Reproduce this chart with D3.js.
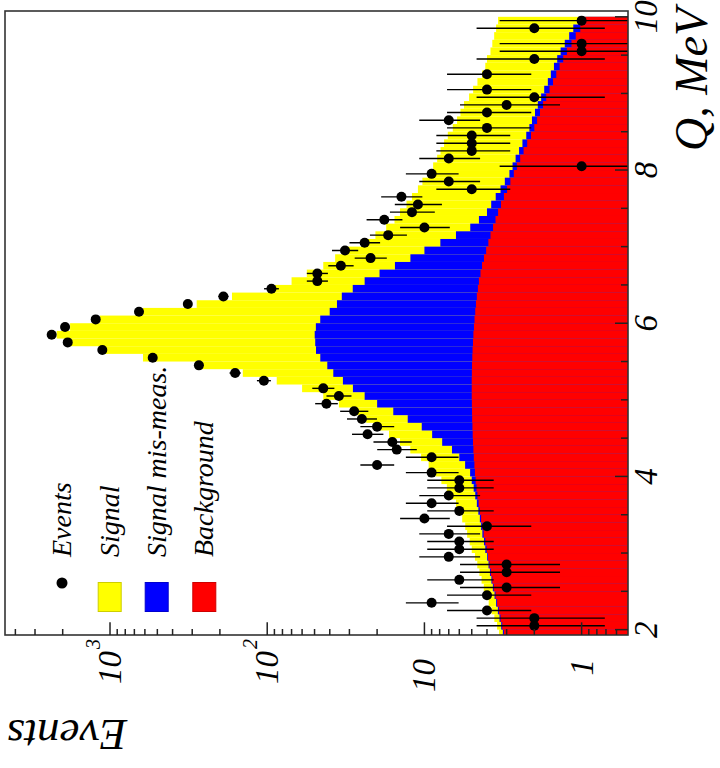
<!DOCTYPE html>
<html>
<head>
<meta charset="utf-8">
<script src="https://cdn.jsdelivr.net/npm/d3@7"></script>
<style>
  body { margin: 0; background: #fff; }
  svg { display: block; }
  text { font-family: "Liberation Serif", "Times New Roman", serif; font-style: italic; fill: #000; }
</style>
</head>
<body>
<svg id="chart" width="720" height="768"></svg>
<script>
// Q bin centres, MeV (bin width 0.1)
const binCenters = [
  1.95, 2.05, 2.15, 2.25, 2.35, 2.45, 2.55, 2.65, 2.75, 2.85, 2.95,
  3.05, 3.15, 3.25, 3.35, 3.45, 3.55, 3.65, 3.75, 3.85, 3.95,
  4.05, 4.15, 4.25, 4.35, 4.45, 4.55, 4.65, 4.75, 4.85, 4.95,
  5.05, 5.15, 5.25, 5.35, 5.45, 5.55, 5.65, 5.75, 5.85, 5.95,
  6.05, 6.15, 6.25, 6.35, 6.45, 6.55, 6.65, 6.75, 6.85, 6.95,
  7.05, 7.15, 7.25, 7.35, 7.45, 7.55, 7.65, 7.75, 7.85, 7.95,
  8.05, 8.15, 8.25, 8.35, 8.45, 8.55, 8.65, 8.75, 8.85, 8.95,
  9.05, 9.15, 9.25, 9.35, 9.45, 9.55, 9.65, 9.75, 9.85, 9.95
];

const events = [
  0, 2, 2, 4, 9, 4, 3, 6, 3, 3, 7,
  6, 6, 7, 4, 10, 6, 9, 7, 6, 6,
  9, 20, 9, 15, 16, 23, 20, 25, 28, 42,
  35, 44, 105, 160, 272, 535, 1119, 1858, 2350, 1932,
  1233, 654, 320, 190, 94, 48, 48, 34, 22, 32,
  24, 17, 10, 18, 12, 11, 14, 5, 7, 9,
  1, 7, 5, 5, 5, 4, 7, 4, 3, 2,
  4, 0, 4, 0, 2, 1, 1, 0, 2, 1
];

const background = [
  3.12, 3.2, 3.28, 3.36, 3.45, 3.53, 3.62, 3.7, 3.78, 3.86, 3.94,
  4.02, 4.1, 4.2, 4.28, 4.36, 4.44, 4.52, 4.6, 4.66, 4.72,
  4.77, 4.81, 4.85, 4.88, 4.91, 4.93, 4.95, 4.97, 4.98, 4.99,
  5.0, 5.0, 5.0, 4.99, 4.98, 4.96, 4.94, 4.91, 4.88, 4.84,
  4.8, 4.75, 4.7, 4.64, 4.57, 4.5, 4.4, 4.3, 4.18, 4.05,
  3.92, 3.8, 3.66, 3.53, 3.4, 3.26, 3.12, 2.98, 2.84, 2.7,
  2.58, 2.46, 2.34, 2.22, 2.1, 2.0, 1.92, 1.84, 1.76, 1.68,
  1.6, 1.52, 1.45, 1.38, 1.31, 1.24, 1.16, 1.09, 1.02, 0.95
];

const misMeas = [
  0.05, 0.05, 0.05, 0.05, 0.05, 0.05, 0.05, 0.05, 0.05, 0.05, 0.05,
  0.08, 0.08, 0.08, 0.08, 0.08, 0.1, 0.12, 0.15, 0.2, 0.28,
  0.35, 0.7, 1.15, 1.8, 2.8, 4.0, 5.45, 7.8, 10.8, 15,
  19, 23.5, 28, 33, 36.5, 41, 44, 44.6, 45, 44.2,
  41.2, 35.3, 31.3, 28.9, 24, 19.5, 14.9, 11.1, 8.1, 5.95,
  4.0, 2.5, 1.45, 0.97, 0.6, 0.5, 0.4, 0.3, 0.24, 0.18,
  0.17, 0.17, 0.16, 0.16, 0.15, 0.15, 0.15, 0.14, 0.14, 0.13,
  0.13, 0.12, 0.12, 0.12, 0.12, 0.12, 0.12, 0.11, 0.11, 0.1
];

const signal = [
  0.18, 0.2, 0.26, 0.33, 0.4, 0.46, 0.52, 0.58, 0.64, 0.7, 0.78,
  0.9, 0.97, 1.07, 1.14, 1.31, 1.46, 1.66, 1.95, 2.34, 2.8,
  3.38, 3.89, 4.5, 5.62, 6.59, 7.87, 9.4, 10.7, 12.7, 15.0,
  20, 31.5, 54, 105, 240, 571, 1059, 1745, 2133, 1746,
  1112, 577, 245, 134, 63.4, 46, 36.7, 28.6, 24.7, 21,
  17.1, 14.2, 12.4, 11, 10.3, 9.24, 8.48, 7.72, 7.22, 6.62,
  6.05, 5.67, 5.4, 5.12, 4.85, 4.45, 4.13, 3.92, 3.7, 3.39,
  3.17, 2.96, 2.73, 2.6, 2.57, 2.44, 2.42, 2.4, 2.37, 2.35
];

const qTicks = [2, 4, 6, 8, 10];
const eventTicks = [1, 10, 100, 1000];
const eventTickLabels = [["1", ""], ["10", ""], ["10", "2"], ["10", "3"]];
const legendLabels = ["Events", "Signal", "Signal mis-meas.", "Background"];
const colors = { sig: "#ffff00", mis: "#0000ff", bkg: "#ff0000" };

// the chart is drawn upright and the whole group turned 90 degrees
const W = 768, H = 720;
const pLeft = 133, pRight = 757, pTop = 5, pBottom = 628;

const svg = d3.select("#chart");
const g = svg.append("g").attr("transform", `translate(0,${W}) rotate(-90)`);

const x = d3.scaleLinear().domain([1.93, 10.076]).range([pLeft, pRight]);
const y = d3.scaleLog().domain([0.507, 4656]).range([pBottom, pTop]);

g.append("clipPath").attr("id", "plot-clip")
  .append("rect")
  .attr("x", pLeft).attr("y", pTop)
  .attr("width", pRight - pLeft).attr("height", pBottom - pTop);

const plot = g.append("g").attr("clip-path", "url(#plot-clip)");

const bins = binCenters.map((c, i) => ({
  c,
  bkg: background[i],
  blue: background[i] + misMeas[i],
  total: background[i] + misMeas[i] + signal[i],
  n: events[i]
}));

const layers = [
  { key: "total", color: colors.sig },
  { key: "blue", color: colors.mis },
  { key: "bkg", color: colors.bkg }
];

layers.forEach((layer) => {
  plot.append("g")
    .selectAll("rect")
    .data(bins)
    .join("rect")
    .attr("x", (d) => x(d.c - 0.05))
    .attr("width", (d) => x(d.c + 0.05) - x(d.c - 0.05))
    .attr("y", (d) => y(d[layer.key]))
    .attr("height", (d) => pBottom - y(d[layer.key]))
    .attr("fill", layer.color);
});

// poisson error bars (Gehrels approximation)
const pts = bins.filter((d) => d.n > 0).map((d) => {
  const n = d.n;
  const lo = n * Math.pow(1 - 1 / (9 * n) - 1 / (3 * Math.sqrt(n)), 3);
  const hi = n + Math.sqrt(n + 0.75) + 1;
  return { c: d.c, n, lo: Math.max(lo, 0.3), hi };
});

plot.append("g")
  .selectAll("line")
  .data(pts)
  .join("line")
  .attr("x1", (d) => x(d.c))
  .attr("x2", (d) => x(d.c))
  .attr("y1", (d) => y(d.lo))
  .attr("y2", (d) => y(d.hi))
  .attr("stroke", "#000")
  .attr("stroke-width", 1.4);

plot.append("g")
  .selectAll("circle")
  .data(pts)
  .join("circle")
  .attr("cx", (d) => x(d.c))
  .attr("cy", (d) => y(d.n))
  .attr("r", 5)
  .attr("fill", "#000");

// frame
g.append("rect")
  .attr("x", pLeft).attr("y", pTop)
  .attr("width", pRight - pLeft).attr("height", pBottom - pTop)
  .attr("fill", "none")
  .attr("stroke", "#333")
  .attr("stroke-width", 1.6);

// Q axis ticks (inside, from the bottom edge)
const qMinor = d3.range(2, 10.01, 0.5);
g.append("g")
  .selectAll("line")
  .data(qMinor)
  .join("line")
  .attr("x1", (d) => x(d)).attr("x2", (d) => x(d))
  .attr("y1", pBottom)
  .attr("y2", (d) => pBottom - (qTicks.includes(d) ? 13 : 7))
  .attr("stroke", "#222")
  .attr("stroke-width", 1.5);

g.append("g")
  .selectAll("text")
  .data(qTicks)
  .join("text")
  .attr("x", (d) => x(d))
  .attr("y", pBottom + 29)
  .attr("text-anchor", "middle")
  .attr("font-size", 33)
  .text((d) => d);

g.append("text")
  .attr("x", W - 8)
  .attr("y", 707)
  .attr("text-anchor", "end")
  .attr("font-size", 46)
  .text("Q, MeV");

// Events axis ticks (log, inside from the left edge)
const yMinor = [];
[0.1, 1, 10, 100, 1000].forEach((dec) => {
  for (let m = 1; m <= 9; m++) {
    const v = m * dec;
    if (v >= 0.507 && v <= 4656) yMinor.push(v);
  }
});
g.append("g")
  .selectAll("line")
  .data(yMinor)
  .join("line")
  .attr("x1", pLeft)
  .attr("x2", (d) => pLeft + (eventTicks.includes(d) ? 12.7 : 6))
  .attr("y1", (d) => y(d)).attr("y2", (d) => y(d))
  .attr("stroke", "#222")
  .attr("stroke-width", 1.5);

const yLab = g.append("g")
  .selectAll("text")
  .data(eventTicks)
  .join("text")
  .attr("x", (d, i) => (eventTickLabels[i][1] ? 129 : 109))
  .attr("y", (d) => y(d) + 11)
  .attr("text-anchor", "end")
  .attr("font-size", 33);
yLab.append("tspan").text((d, i) => eventTickLabels[i][0]);
yLab.filter((d, i) => eventTickLabels[i][1] !== "")
  .append("tspan")
  .attr("dx", 2)
  .attr("dy", -21)
  .attr("font-size", 20)
  .text((d) => eventTickLabels[eventTicks.indexOf(d)][1]);

g.append("text")
  .attr("transform", "translate(48,7) rotate(-90)")
  .attr("text-anchor", "end")
  .attr("font-size", 45)
  .text("Events");

// legend
const legendV = [62, 109.7, 156.7, 204.3];
const legend = g.append("g");
legend.append("circle")
  .attr("cx", 185).attr("cy", legendV[0]).attr("r", 5.5).attr("fill", "#000");
[colors.sig, colors.mis, colors.bkg].forEach((c, i) => {
  legend.append("rect")
    .attr("x", 156.5).attr("y", legendV[i + 1] - 11.5)
    .attr("width", 29).attr("height", 23)
    .attr("fill", c)
    .attr("stroke", d3.color(c).darker(0.6))
    .attr("stroke-width", 1);
});
legend.selectAll("text")
  .data(legendLabels)
  .join("text")
  .attr("x", 211)
  .attr("y", (d, i) => legendV[i] + 9)
  .attr("font-size", 28)
  .text((d) => d);
</script>
</body>
</html>
